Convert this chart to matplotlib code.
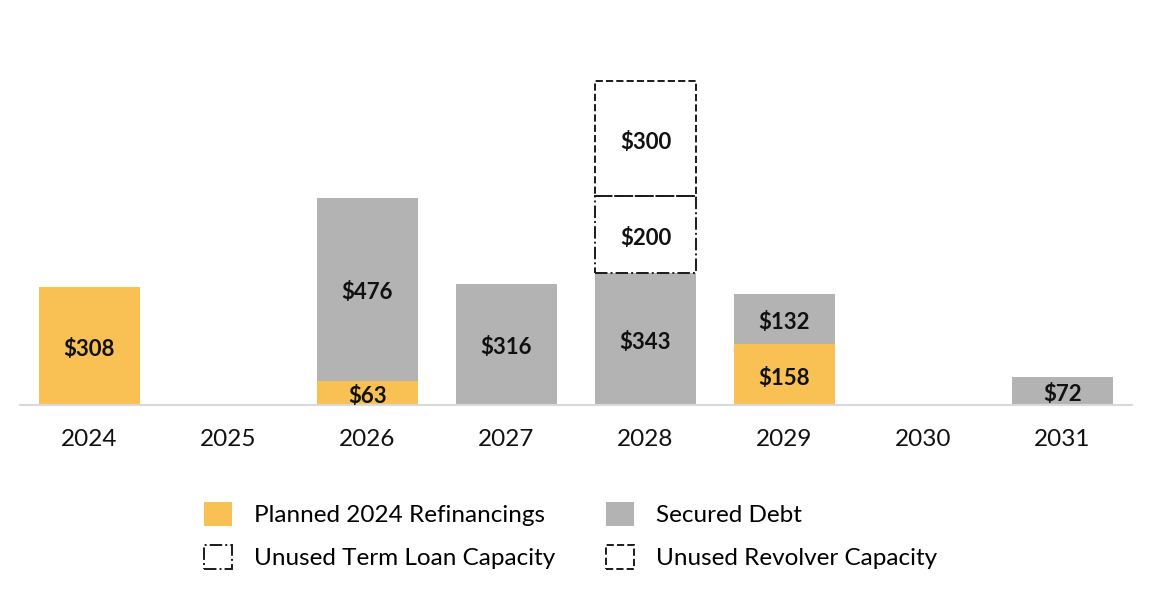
import matplotlib.pyplot as plt
import numpy as np

years = ['2024', '2025', '2026', '2027', '2028', '2029', '2030', '2031']
planned = [308, 0, 63, 0, 0, 158, 0, 0]
secured = [0, 0, 476, 316, 343, 132, 0, 72]
term_loan = [0, 0, 0, 0, 200, 0, 0, 0]
revolver = [0, 0, 0, 0, 300, 0, 0, 0]

orange = '#F9C154'
gray = '#B3B3B3'
edge = '#1a1a1a'

plt.rcParams['font.family'] = ['Lato', 'DejaVu Sans']

fig = plt.figure(figsize=(11.52, 6.14), dpi=100)
ax = fig.add_axes([20 / 1152, 209 / 614, 1112 / 1152, 340 / 614])

x = np.arange(len(years))
w = 0.72
planned = np.array(planned)
secured = np.array(secured)
term_loan = np.array(term_loan)
revolver = np.array(revolver)
bot3 = planned + secured
bot4 = bot3 + term_loan


def draw(vals, bots, **kw):
    # only draw non-zero segments so empty bars don't leave edge lines
    m = vals > 0
    return ax.bar(x[m], vals[m], w, bottom=bots[m], **kw)


b1 = draw(planned, np.zeros(len(x)), color=orange, label='Planned 2024 Refinancings')
b2 = draw(secured, planned, color=gray, label='Secured Debt')
b3 = draw(term_loan, bot3, facecolor='none', edgecolor=edge,
          linestyle='-.', linewidth=1.4, label='Unused Term Loan Capacity')
b4 = draw(revolver, bot4, facecolor='none', edgecolor=edge,
          linestyle='--', linewidth=1.4, label='Unused Revolver Capacity')

# value labels
for vals, bots in [(planned, np.zeros(len(x))), (secured, planned),
                   (term_loan, bot3), (revolver, bot4)]:
    for i in range(len(x)):
        if vals[i] > 0:
            yc = bots[i] + vals[i] / 2 - 9
            ax.text(x[i], yc, '$%d' % vals[i], ha='center', va='center',
                    fontsize=16, fontweight='bold', color='#111111')

ax.set_xlim(-0.5, 7.5)
ax.set_ylim(0, 885)
ax.set_xticks(x)
ax.set_xticklabels(years, fontsize=17.5, color='#111111')
ax.tick_params(axis='x', length=0, pad=17)
ax.set_yticks([])
for s in ['top', 'right', 'left']:
    ax.spines[s].set_visible(False)
ax.spines['bottom'].set_color('#D9D9D9')
ax.spines['bottom'].set_linewidth(1.5)

handles = [b1, b3, b2, b4]
labels = [h.get_label() for h in handles]
fig.legend(handles, labels, ncol=2, loc='center', bbox_to_anchor=(0.495, 0.128),
           frameon=False, fontsize=17.5, handlelength=1.15, handleheight=1.15,
           columnspacing=2.1, labelspacing=0.75, handletextpad=0.9)

fig.savefig('out.png', dpi=100)
